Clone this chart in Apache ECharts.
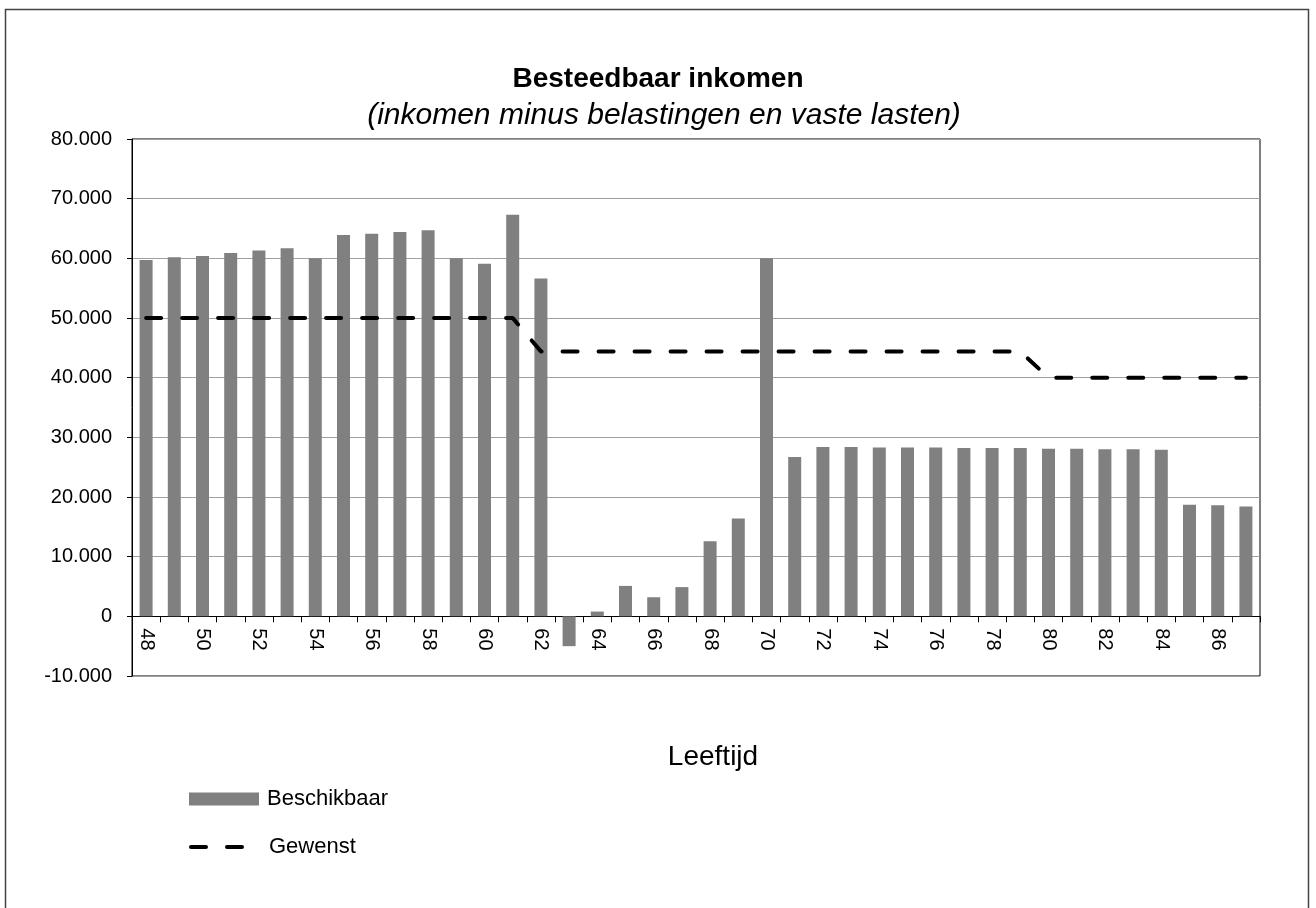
<!DOCTYPE html>
<html><head><meta charset="utf-8">
<script src="https://cdn.jsdelivr.net/npm/echarts@6/dist/echarts.min.js"></script>
<style>html,body{margin:0;padding:0;background:#fff}#c{width:1316px;height:908px}</style>
</head><body><div id="c"></div>
<script>
const ages = ['48','49','50','51','52','53','54','55','56','57','58','59','60','61','62','63','64','65','66','67','68','69','70','71','72','73','74','75','76','77','78','79','80','81','82','83','84','85','86','87'];
const beschikbaar = [59700,60200,60400,60900,61300,61700,60000,63900,64100,64400,64700,60000,59100,67300,56600,-5000,800,5100,3200,4900,12600,16400,60000,26700,28400,28400,28300,28300,28300,28200,28200,28200,28100,28100,28000,28000,27900,18700,18600,18400];
const gewenst = [50000,50000,50000,50000,50000,50000,50000,50000,50000,50000,50000,50000,50000,50000,44400,44400,44400,44400,44400,44400,44400,44400,44400,44400,44400,44400,44400,44400,44400,44400,44400,44400,40000,40000,40000,40000,40000,40000,40000,40000];
const titleText = 'Besteedbaar inkomen';
const subtitleText = '(inkomen minus belastingen en vaste lasten)';
const xAxisName = 'Leeftijd';
const yMin = -10000, yMax = 80000, yStep = 10000;

const FF = '"Liberation Sans", Arial, sans-serif';
const GRID = {left: 132, right: 56, top: 139, bottom: 232};
const plotH = 908 - GRID.top - GRID.bottom;
const zeroOffset = -plotH * (0 - yMin) / (yMax - yMin);

const chart = echarts.init(document.getElementById('c'), null, {renderer: 'canvas'});
function fmt(v) {
  if (v === 0) return '0';
  const s = Math.abs(v).toString().replace(/\B(?=(\d{3})+(?!\d))/g, '.');
  return (v < 0 ? '-' : '') + s;
}
chart.setOption({
  animation: false,
  backgroundColor: '#fff',
  textStyle: {fontFamily: FF, color: '#000'},
  graphic: [
    {type: 'rect', shape: {x: 5.5, y: 9.5, width: 1303, height: 1000}, style: {fill: 'none', stroke: '#444', lineWidth: 1.5}, silent: true},
    {type: 'text', style: {text: titleText, x: 658, y: 79, font: 'bold 28px ' + FF, fill: '#000', align: 'center', verticalAlign: 'middle'}},
    {type: 'text', style: {text: subtitleText, x: 664, y: 116, font: 'italic 30px ' + FF, fill: '#000', align: 'center', verticalAlign: 'middle'}},
    {type: 'text', style: {text: xAxisName, x: 713, y: 757, font: '28px ' + FF, fill: '#000', align: 'center', verticalAlign: 'middle'}}
  ],
  legend: [
    {data: [{name: 'Beschikbaar', icon: 'rect'}], left: 184, top: 783, orient: 'vertical', itemWidth: 70, itemHeight: 13,
     textStyle: {fontSize: 22, color: '#000', fontFamily: FF, padding: [0, 0, 0, 3]}},
    {data: ['Gewenst'], left: 184, top: 831, orient: 'vertical', itemWidth: 55, itemHeight: 13,
     itemStyle: {color: 'rgba(0,0,0,0)', borderColor: 'rgba(0,0,0,0)', borderWidth: 0},
     lineStyle: {color: '#000', width: 4, type: [15, 21], cap: 'round'},
     textStyle: {fontSize: 22, color: '#000', fontFamily: FF, padding: [0, 0, 0, 18]}}
  ],
  grid: {left: GRID.left, right: GRID.right, top: GRID.top, bottom: GRID.bottom, show: true, borderColor: '#000', borderWidth: 1, containLabel: false},
  xAxis: {
    type: 'category', data: ages, boundaryGap: true, position: 'bottom', offset: zeroOffset,
    axisLine: {onZero: false, lineStyle: {color: '#000', width: 1}},
    axisTick: {show: true, interval: 0, length: 6, alignWithLabel: false, lineStyle: {color: '#000'}},
    axisLabel: {interval: 1, rotate: -90, fontSize: 20, margin: 12, color: '#000', fontFamily: FF},
    splitLine: {show: false}
  },
  yAxis: {
    type: 'value', min: yMin, max: yMax, interval: yStep,
    axisLine: {show: true, lineStyle: {color: '#000', width: 1}},
    axisTick: {show: true, length: 5, lineStyle: {color: '#000'}},
    axisLabel: {fontSize: 20, margin: 20, color: '#000', fontFamily: FF, formatter: fmt},
    splitLine: {show: true, lineStyle: {color: '#a0a0a0', width: 1}}
  },
  series: [
    {name: 'Beschikbaar', type: 'bar', data: beschikbaar, barWidth: 13, itemStyle: {color: '#808080'}},
    {name: 'Gewenst', type: 'line', data: gewenst, symbol: 'none', showSymbol: false,
     lineStyle: {color: '#000', width: 4, type: [15, 21], cap: 'round'}, itemStyle: {color: '#000'}, z: 5}
  ]
});
</script>
</body></html>
